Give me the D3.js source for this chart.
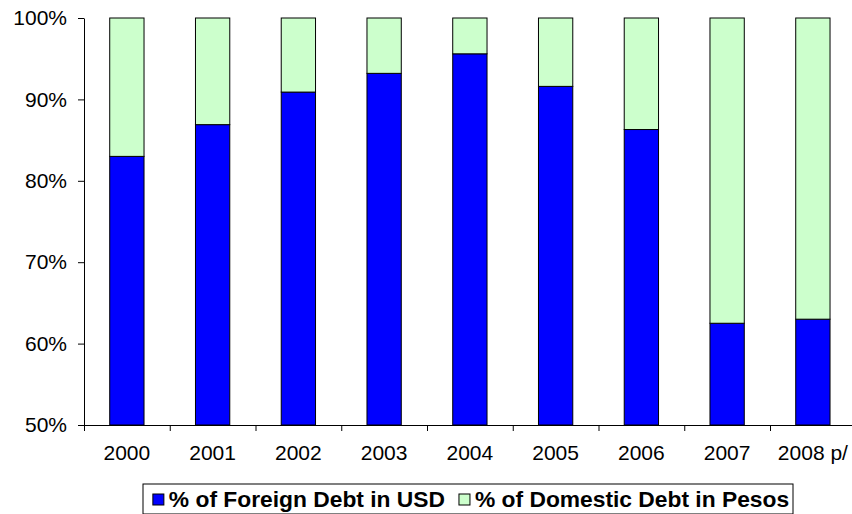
<!DOCTYPE html>
<html>
<head>
<meta charset="utf-8">
<script src="https://cdn.jsdelivr.net/npm/d3@7"></script>
<style>
  html, body { margin: 0; padding: 0; background: #fff; }
  svg { display: block; }
  text { font-family: "Liberation Sans", Arial, sans-serif; fill: #000; }
</style>
</head>
<body>
<svg id="chart" width="852" height="514"></svg>
<script>
const categories = ["2000", "2001", "2002", "2003", "2004", "2005", "2006", "2007", "2008 p/"];
const foreignUSD = [0.830, 0.869, 0.909, 0.932, 0.956, 0.916, 0.863, 0.625, 0.630];
const domesticPesos = foreignUSD.map(v => 1 - v);
const yTicks = [0.5, 0.6, 0.7, 0.8, 0.9, 1.0];
const seriesNames = ["% of Foreign Debt in USD", "% of Domestic Debt in Pesos"];
const seriesColors = ["#0000FF", "#CCFFCC"];

(function () {
const svg = d3.select("#chart");
const mLeft = 84, mRight = 855.75, mTop = 18, mBottom = 425;

const x = d3.scaleBand().domain(categories).range([mLeft, mRight]).paddingInner(0.6).paddingOuter(0.3);
const xi = d3.scaleLinear().domain([0, categories.length]).range([mLeft, mRight]);
const y = d3.scaleLinear().domain([0.5, 1]).range([mBottom, mTop]);

const stackData = categories.map((c, i) => ({ cat: c, foreign: foreignUSD[i], domestic: domesticPesos[i] }));
const layers = d3.stack().keys(["foreign", "domestic"])(stackData);

svg.append("g").selectAll("g").data(layers).join("g")
  .attr("fill", (d, i) => seriesColors[i])
  .selectAll("rect").data(d => d).join("rect")
  .attr("x", d => x(d.data.cat))
  .attr("width", x.bandwidth())
  .attr("y", d => y(Math.min(1, d[1])))
  .attr("height", d => y(Math.max(0.5, d[0])) - y(Math.min(1, d[1])))
  .attr("stroke", "#000")
  .attr("stroke-width", 1);

const yAxis = svg.append("g").attr("transform", `translate(${mLeft},0)`)
  .call(d3.axisLeft(y).tickValues(yTicks).tickSize(6).tickSizeOuter(0).tickPadding(11).tickFormat(d3.format(".0%")));
yAxis.select(".domain").attr("stroke", "#000");
yAxis.selectAll(".tick line").attr("stroke", "#000");
yAxis.selectAll("text").attr("font-size", 21).attr("font-family", "Liberation Sans, Arial, sans-serif").attr("fill", "#000");

const xAxisTicks = svg.append("g").attr("transform", `translate(0,${mBottom})`)
  .call(d3.axisBottom(xi).tickValues(d3.range(categories.length + 1)).tickSize(6).tickSizeOuter(0).tickFormat(""));
xAxisTicks.select(".domain").attr("stroke", "#000");
xAxisTicks.selectAll(".tick line").attr("stroke", "#000");

const xAxisLabels = svg.append("g").attr("transform", `translate(0,${mBottom})`)
  .call(d3.axisBottom(x).tickSize(0).tickPadding(20));
xAxisLabels.select(".domain").remove();
xAxisLabels.selectAll("text").attr("font-size", 21).attr("font-family", "Liberation Sans, Arial, sans-serif").attr("fill", "#000");

const boxX = 143, boxY = 484, boxW = 650, boxH = 30;
const legend = svg.append("g");
legend.append("rect").attr("x", boxX).attr("y", boxY).attr("width", boxW).attr("height", boxH)
  .attr("fill", "#fff").attr("stroke", "#000").attr("stroke-width", 1);

const items = legend.append("g");
let cx = 0;
const sw = 11, txtOff = 16, gap = 14;
seriesNames.forEach((name, i) => {
  items.append("rect").attr("x", cx).attr("y", boxY + 10).attr("width", sw).attr("height", sw)
    .attr("fill", seriesColors[i]).attr("stroke", "#000").attr("stroke-width", 1);
  const t = items.append("text").attr("x", cx + txtOff).attr("y", boxY + 23)
    .attr("font-size", 22.8).attr("font-weight", "bold").text(name);
  cx += txtOff + t.node().getComputedTextLength() + gap;
});
const totalW = cx - gap;
items.attr("transform", `translate(${boxX + (boxW - totalW) / 2 + 3},0)`);
})();
</script>
</body>
</html>
